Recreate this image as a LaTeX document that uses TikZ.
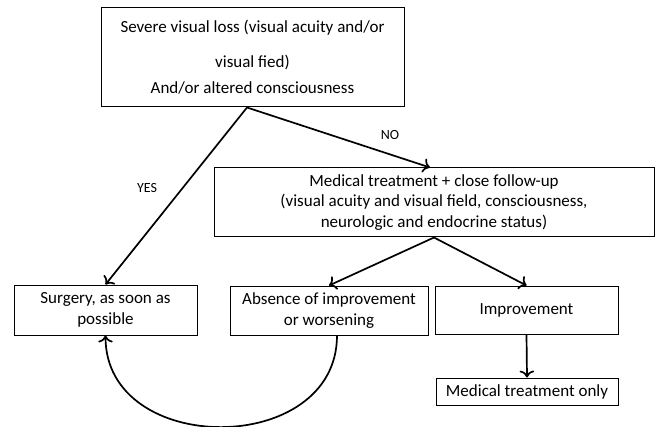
\documentclass[tikz,border=0pt]{standalone}
\usepackage{fontspec}
\setmainfont{Carlito}
\usetikzlibrary{arrows.meta}
\begin{document}
\begin{tikzpicture}[x=1pt, y=-1pt,
  box/.style={draw, shape=rectangle, line width=1pt, align=center,
    inner sep=0pt, font=\fontsize{17}{20.5}\selectfont},
  lbl/.style={font=\fontsize{14}{16}\selectfont},
  arr/.style={-{To[scale=1.3]}, line width=1.7pt}]
\useasboundingbox (0,0) rectangle (660,427);
\node (severe) [box, minimum width=303pt, minimum height=99pt] at (252.5,57.5)
  {Severe visual loss (visual acuity and/or\\[14pt] visual fied)\\[6pt]
  And/or altered consciousness};
\node (medical) [box, minimum width=440pt, minimum height=69pt] at (434,202.5)
  {Medical treatment + close follow-up\\(visual acuity and visual field, consciousness,\\
  neurologic and endocrine status)};
\node (surgery) [box, minimum width=183pt, minimum height=50pt] at (105.5,310)
  {Surgery, as soon as\\possible};
\node (absence) [box, minimum width=198pt, minimum height=49pt] at (329,310.5)
  {Absence of improvement\\or worsening};
\node (improv) [box, minimum width=183pt, minimum height=48pt] at (526.5,310)
  {Improvement};
\node (medonly) [box, minimum width=182pt, minimum height=27pt] at (527,391.5)
  {Medical treatment only};
\node (yes) [lbl] at (147,188) {YES};
\node (no) [lbl] at (390,135) {NO};
\draw[arr] ([xshift=-5.5pt]severe.south) -- (surgery.north);
\draw[arr] ([xshift=-5.5pt]severe.south) -- ([xshift=-4pt]medical.north);
\draw[arr] (medical.south) -- (absence.north);
\draw[arr] (medical.south) -- (improv.north);
\draw[arr] (improv.south) -- (medonly.north);
\draw[arr] ([xshift=8pt]absence.south) to[out=-90, in=-90, looseness=1.35]
  (surgery.south);
\end{tikzpicture}
\end{document}
